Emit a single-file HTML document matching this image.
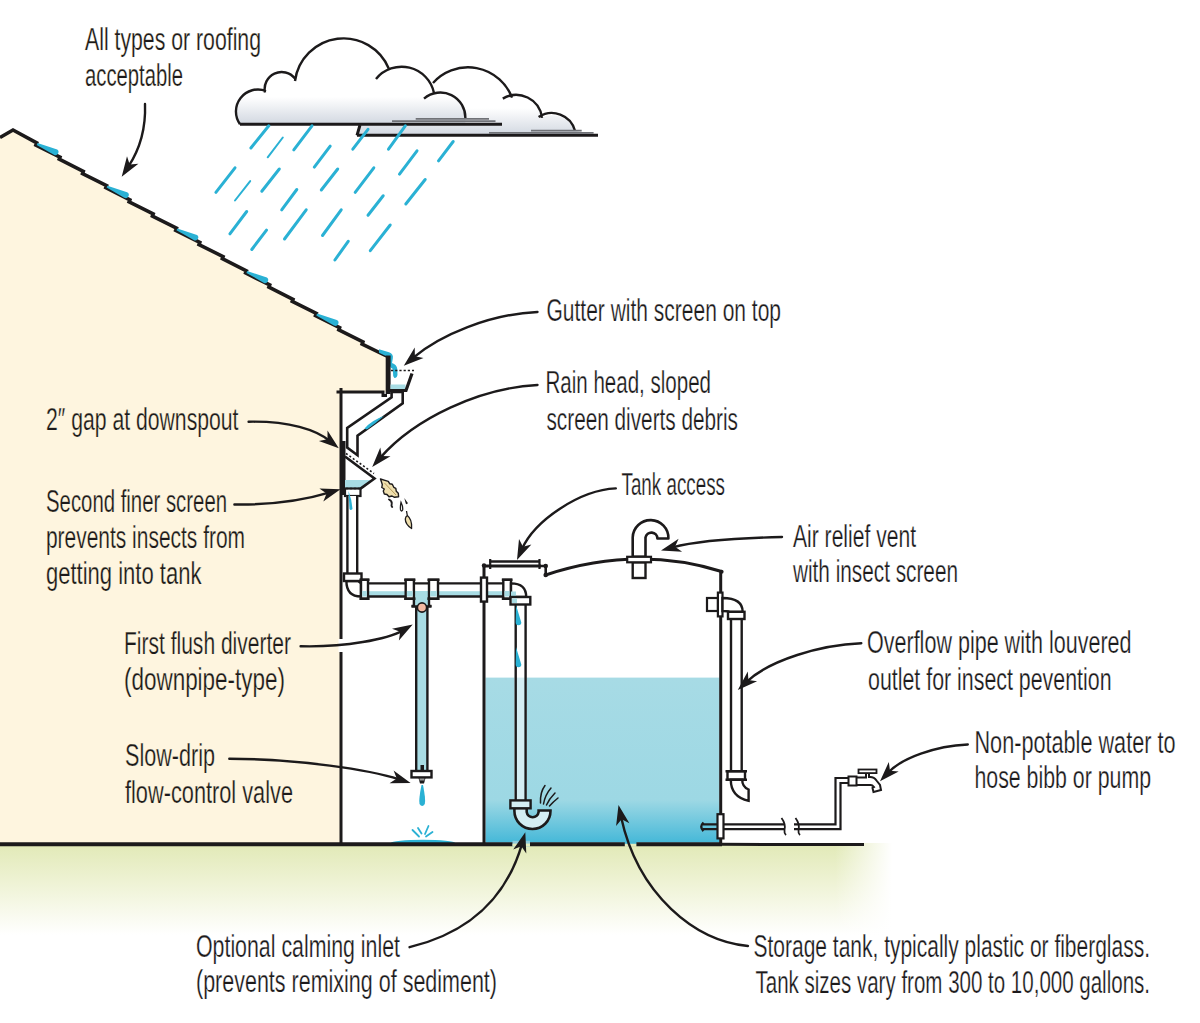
<!DOCTYPE html>
<html><head><meta charset="utf-8"><style>
html,body{margin:0;padding:0;background:#fff;width:1200px;height:1023px;overflow:hidden}
svg{display:block}
text{font-family:"Liberation Sans",sans-serif;font-size:31px;fill:#1c1a1b}
</style></head><body>
<svg width="1200" height="1023" viewBox="0 0 1200 1023">
<defs>
<linearGradient id="gv" x1="0" y1="843" x2="0" y2="935" gradientUnits="userSpaceOnUse">
<stop offset="0" stop-color="#e1e9b6"/><stop offset="0.45" stop-color="#eff3d6"/><stop offset="1" stop-color="#ffffff" stop-opacity="1"/></linearGradient>
<linearGradient id="gh" x1="835" y1="0" x2="892" y2="0" gradientUnits="userSpaceOnUse">
<stop offset="0" stop-color="#fff" stop-opacity="0"/><stop offset="1" stop-color="#fff" stop-opacity="1"/></linearGradient>
<linearGradient id="water" x1="0" y1="678" x2="0" y2="843" gradientUnits="userSpaceOnUse">
<stop offset="0" stop-color="#a7dbe5"/><stop offset="0.74" stop-color="#9dd8e4"/><stop offset="1" stop-color="#45b8d8"/></linearGradient>
<linearGradient id="cl1" x1="0" y1="97" x2="0" y2="124" gradientUnits="userSpaceOnUse">
<stop offset="0" stop-color="#ffffff"/><stop offset="1" stop-color="#d2d8e1"/></linearGradient>
<linearGradient id="cl2" x1="0" y1="108" x2="0" y2="135" gradientUnits="userSpaceOnUse">
<stop offset="0" stop-color="#ffffff"/><stop offset="1" stop-color="#d2d8e1"/></linearGradient>
</defs>
<rect x="0" y="843" width="1200" height="100" fill="url(#gv)"/>
<rect x="780" y="835" width="420" height="110" fill="url(#gh)"/>
<path d="M0,137 L13,130 L386,356 L386,392 L341,392 L341,843.5 L0,843.5 Z" fill="#fef5df"/>
<path d="M0,137.5 L13,130 L36.7,142.9 L35.9,145.0 L60.0,157.1 L59.2,159.2 L83.3,171.4 L82.5,173.5 L106.6,185.6 L105.8,187.7 L129.9,199.8 L129.1,201.9 L153.2,214.0 L152.4,216.1 L176.5,228.2 L175.7,230.3 L199.8,242.4 L199.0,244.5 L223.1,256.6 L222.3,258.7 L246.4,270.8 L245.6,272.9 L269.7,285.0 L268.9,287.1 L293.0,299.3 L292.2,301.4 L316.3,313.5 L315.5,315.6 L339.6,327.7 L338.8,329.8 L362.9,341.9 L362.1,344.0 L386.5,356" fill="none" stroke="#1c1a1b" stroke-width="3.6" stroke-linejoin="miter"/>
<path d="M37.5,143.1 L57.2,149.6 A3.1,3.1 0 0 1 54.3,155.0 L36.7,145.0 Z" fill="#2ab1d4"/>
<path d="M107.4,185.7 L127.1,192.2 A3.1,3.1 0 0 1 124.2,197.7 L106.6,187.6 Z" fill="#2ab1d4"/>
<path d="M177.3,228.4 L197.0,234.9 A3.1,3.1 0 0 1 194.1,240.3 L176.5,230.3 Z" fill="#2ab1d4"/>
<path d="M247.2,271.0 L266.9,277.5 A3.1,3.1 0 0 1 264.0,282.9 L246.4,272.9 Z" fill="#2ab1d4"/>
<path d="M317.1,313.6 L336.8,320.1 A3.1,3.1 0 0 1 333.9,325.6 L316.3,315.5 Z" fill="#2ab1d4"/>
<path d="M379,349.3 L389,352.3 Q393.8,354 392.8,358.5 L392,363 Q396.8,364.5 397.3,369 L397.5,375 Q396.8,378.8 394.2,377.8 Q392.8,376.5 393,372.5 L392.6,368.8 Q389.5,367.5 389.8,364 L390,357 L386,356 L379,352.8 Z" fill="#2ab1d4"/>
<rect x="385.7" y="355.5" width="4.9" height="38.5" fill="#1c1a1b"/>
<path d="M336.5,392 L383,392 L383,395.5 L387,395.5" fill="none" stroke="#1c1a1b" stroke-width="3"/>
<path d="M341,388 L341,843.5" fill="none" stroke="#1c1a1b" stroke-width="3"/>
<rect x="390.5" y="384.5" width="15" height="5" fill="#a8dce4"/>
<path d="M390,390.5 L406,390.5 L412,373.5" fill="none" stroke="#1c1a1b" stroke-width="3.2"/>
<path d="M391,370.5 L414,370.5" fill="none" stroke="#1c1a1b" stroke-width="1.6" stroke-dasharray="2.2,2"/>
<path d="M391.6,392 L391.6,397.4 L347.2,428 L347.2,447.6 L357.5,455.2 L357.5,435.6 L402.7,403.3 L402.7,392 Z" fill="#fff" stroke="#1c1a1b" stroke-width="2.6" stroke-linejoin="miter"/>
<path d="M364.5,428.5 Q372,420 384,416 Q376,423 367,429.5 Z" fill="#2ab1d4"/>
<rect x="341" y="441" width="4.5" height="54" fill="#1c1a1b"/>
<path d="M345,480 L372,480 L360.5,488.5 L345,488.5 Z" fill="#a8dce4"/>
<path d="M345,456.5 L374.5,478.5 L360.5,488.6" fill="none" stroke="#1c1a1b" stroke-width="2.6"/>
<path d="M346,453.5 L374,473.5" fill="none" stroke="#1c1a1b" stroke-width="1.6" stroke-dasharray="2,2.2"/>
<rect x="345" y="488.5" width="15.5" height="7.5" fill="#fff" stroke="#1c1a1b" stroke-width="2.2"/>
<path d="M346,488.5 L360,488.5" fill="none" stroke="#1c1a1b" stroke-width="1.6" stroke-dasharray="2,2"/>
<rect x="346.4" y="496" width="11.8" height="78" fill="#fff"/>
<path d="M347.4,496 L347.4,574 M357.2,496 L357.2,574" stroke="#1c1a1b" stroke-width="2.4"/>
<path d="M348.5,491 Q352,500 352.5,509 Q350.5,511 349.5,509 Z" fill="#2ab1d4"/>
<path d="M346.4,581 Q346.4,596.5 361,596.5 L361,583.4 L358.2,581 Z" fill="#fff" stroke="#1c1a1b" stroke-width="2.4"/>
<rect x="344" y="573.5" width="17.5" height="7.5" fill="#fff" stroke="#1c1a1b" stroke-width="2.4"/>
<rect x="361" y="583.4" width="150" height="13.1" fill="#fff"/>
<rect x="361" y="591.2" width="150" height="5" fill="#a8dce4"/>
<path d="M361,583.4 L503,583.4 M361,596.5 L503,596.5" stroke="#1c1a1b" stroke-width="2.4"/>
<rect x="413.9" y="591" width="15.1" height="16" fill="#a8dce4"/>
<path d="M413.9,597 L413.9,606 L411.5,606 M429,597 L429,606 L431.5,606" fill="none" stroke="#1c1a1b" stroke-width="2.4"/>
<path d="M411.5,606.5 L431.5,606.5" stroke="#1c1a1b" stroke-width="2.4"/>
<rect x="361" y="579.8" width="7" height="19" fill="#fff" stroke="#1c1a1b" stroke-width="2.4"/>
<rect x="362.2" y="591" width="4.6" height="5.5" fill="#a8dce4"/>
<path d="M359.5,579.8 L369.5,579.8 M359.5,598.8 L369.5,598.8" stroke="#1c1a1b" stroke-width="2.4"/>
<rect x="405.7" y="579.8" width="8.199999999999989" height="19" fill="#fff" stroke="#1c1a1b" stroke-width="2.4"/>
<rect x="406.9" y="591" width="5.799999999999988" height="5.5" fill="#a8dce4"/>
<path d="M404.2,579.8 L415.4,579.8 M404.2,598.8 L415.4,598.8" stroke="#1c1a1b" stroke-width="2.4"/>
<rect x="429" y="579.8" width="9" height="19" fill="#fff" stroke="#1c1a1b" stroke-width="2.4"/>
<rect x="430.2" y="591" width="6.6" height="5.5" fill="#a8dce4"/>
<path d="M427.5,579.8 L439.5,579.8 M427.5,598.8 L439.5,598.8" stroke="#1c1a1b" stroke-width="2.4"/>
<rect x="503.3" y="579.8" width="7.699999999999989" height="19" fill="#fff" stroke="#1c1a1b" stroke-width="2.4"/>
<rect x="504.5" y="591" width="5.299999999999988" height="5.5" fill="#a8dce4"/>
<path d="M501.8,579.8 L512.5,579.8 M501.8,598.8 L512.5,598.8" stroke="#1c1a1b" stroke-width="2.4"/>
<rect x="416.2" y="607" width="11.2" height="165" fill="#a8dce4" stroke="#1c1a1b" stroke-width="2.4"/>
<circle cx="422" cy="607.5" r="4.6" fill="#f4b9a2" stroke="#1c1a1b" stroke-width="1.6"/>
<rect x="420.5" y="765" width="3.5" height="7" fill="#1c1a1b"/>
<rect x="411.5" y="771" width="20" height="6.4" fill="#fff" stroke="#1c1a1b" stroke-width="2.4"/>
<path d="M418.5,778 L425.5,778 L424,783.5 L420,783.5 Z" fill="#1c1a1b"/>
<rect x="419.5" y="778.5" width="5" height="2" fill="#9a9a9a"/>
<path d="M421.5,785 L423,785 Q426,800 424.8,804 Q422.2,808 419.5,804 Q418.5,800 421.5,785 Z" fill="#2ab1d4"/>
<ellipse cx="423" cy="842.8" rx="32" ry="3" fill="#2ab1d4"/>
<path d="M412.5,830 L419,836.5 M418,828 L421.5,833.5 M428.5,826 L425,834 M432.5,832 L426,836.5" stroke="#2ab1d4" stroke-width="1.8" stroke-linecap="round"/>
<rect x="485.5" y="677.6" width="234" height="165" fill="url(#water)"/>
<path d="M484,565 L484,843.5" stroke="#1c1a1b" stroke-width="3"/>
<path d="M720.7,571.5 L720.7,843.5" stroke="#1c1a1b" stroke-width="3"/>
<path d="M545.7,575 Q636,545 721.6,571.5" fill="none" stroke="#1c1a1b" stroke-width="3"/>
<circle cx="721.6" cy="571.8" r="2" fill="#1c1a1b"/>
<path d="M484,566 L541,566" stroke="#1c1a1b" stroke-width="3.2"/><path d="M489.3,561.5 L540,561.5" stroke="#1c1a1b" stroke-width="2.4"/>
<path d="M490.2,559 L490.2,569 M539.5,559 L539.5,569" stroke="#1c1a1b" stroke-width="2.2"/>
<circle cx="484" cy="565.5" r="2.2" fill="#1c1a1b"/>
<path d="M540,566 L545.7,566 L545.7,575" fill="none" stroke="#1c1a1b" stroke-width="2.6"/>
<circle cx="545.7" cy="566" r="2.3" fill="#1c1a1b"/><circle cx="545.7" cy="575" r="2.3" fill="#1c1a1b"/>
<path d="M632.7,556.8 L632.7,537.5 A17.8,17.8 0 0 1 668.4,538.5 L657.4,538.5 A6,6 0 0 0 645.5,537.5 L645.5,556.8 Z" fill="#fff" stroke="#1c1a1b" stroke-width="2.6" stroke-linejoin="round"/>
<rect x="632.7" y="562.3" width="12.8" height="15.7" fill="#fff" stroke="#1c1a1b" stroke-width="2.4"/>
<rect x="627.2" y="556.8" width="23.8" height="5.5" fill="#fff" stroke="#1c1a1b" stroke-width="2.2"/>
<rect x="514.5" y="604.5" width="12.3" height="196" fill="#fff"/>
<rect x="514.5" y="677.6" width="12.3" height="123" fill="#d4edf3"/>
<path d="M515.7,604.5 L515.7,800.4 M525.6,604.5 L525.6,800.4" stroke="#1c1a1b" stroke-width="2.4"/>
<path d="M511,583.4 Q526.2,583.4 526.2,597 L511,597 Z" fill="#fff" stroke="#1c1a1b" stroke-width="2.4"/>
<rect x="511" y="591.5" width="5" height="4.5" fill="#a8dce4"/>
<rect x="510.5" y="597" width="19.8" height="7.5" fill="#fff" stroke="#1c1a1b" stroke-width="2.4"/>
<rect x="512" y="598.5" width="5" height="4.5" fill="#a8dce4"/>
<path d="M516,605 L521.3,622.5 A2.8,2.8 0 0 1 515.7,622.5 Z M516,647 L521.3,664.5 A2.8,2.8 0 0 1 515.7,664.5 Z" fill="#2ab1d4"/>
<rect x="481" y="577.6" width="6" height="24" fill="#fff" stroke="#1c1a1b" stroke-width="2.4"/>
<path d="M514.4,808 L514.4,811 A18,18 0 0 0 550.5,811 L550.5,810.5 L538.6,810.5 L538.6,812 A6,6 0 0 1 526.7,812 L526.7,808 Z" fill="#d4edf3" stroke="#1c1a1b" stroke-width="2.6"/>
<rect x="510.4" y="800.4" width="20.2" height="7.9" fill="#d4edf3" stroke="#1c1a1b" stroke-width="2.4"/>
<path d="M540.5,803 Q540,792 545,785.5 M543.5,804 Q545,795 551,788 M546.5,805 Q549,799 555,793 M549.5,806 Q553,802 558,798" fill="none" stroke="#1c1a1b" stroke-width="1.5" stroke-linecap="round"/>
<rect x="707" y="598" width="11" height="13" fill="#fff" stroke="#1c1a1b" stroke-width="2.2"/>
<rect x="717.9" y="592.6" width="4.6" height="23.8" fill="#fff" stroke="#1c1a1b" stroke-width="2.2"/>
<path d="M722.5,598 Q742.7,598 742.7,612 L729.8,612 Q729.8,611 722.5,611 Z" fill="#fff" stroke="#1c1a1b" stroke-width="2.4"/>
<rect x="728" y="611.8" width="16.5" height="7.2" fill="#fff" stroke="#1c1a1b" stroke-width="2.4"/>
<path d="M731,619 L731,771.2 M741.7,619 L741.7,771.2" stroke="#1c1a1b" stroke-width="2.4"/>
<rect x="727.5" y="771.2" width="17.5" height="8.6" fill="#fff" stroke="#1c1a1b" stroke-width="2.4"/>
<path d="M725.5,771.2 L747,771.2 M725.5,779.8 L747,779.8" stroke="#1c1a1b" stroke-width="2.4"/>
<path d="M730.8,779.8 Q730.8,797 748.6,800.8 L748.6,789.5 Q742.2,787 742.2,779.8 Z" fill="#fff" stroke="#1c1a1b" stroke-width="2.4"/>
<path d="M703,824.4 L784,824.4 M703,829.2 L784,829.2" stroke="#1c1a1b" stroke-width="2.2"/>
<path d="M703.5,822.5 Q699,826.8 703.5,831" fill="none" stroke="#1c1a1b" stroke-width="2.4"/>
<rect x="717.5" y="814.2" width="6" height="24.2" fill="#fff" stroke="#1c1a1b" stroke-width="2.2"/>
<path d="M781.5,818 Q786,824 784.5,830 Q784,833 786,835 M795.5,818 Q800,824 798.5,830 Q798,833 800,835" fill="none" stroke="#1c1a1b" stroke-width="1.8"/>
<path d="M794,824.4 L835.5,824.4 L835.5,778 L848.5,778 M794,829.2 L840.5,829.2 L840.5,783 L848.5,783" fill="none" stroke="#1c1a1b" stroke-width="2.2"/>
<rect x="848.5" y="776.5" width="8" height="9" fill="#fff" stroke="#1c1a1b" stroke-width="2"/>
<path d="M856.5,777.5 L866,777.5 L866,773.5 M869,773.5 L869,777 Q874,776.5 876.5,780.5 L880,785 L881,790 L873.5,792 L872.5,788 L874,787 Q872,784.5 870,785 L856.5,785" fill="none" stroke="#1c1a1b" stroke-width="2"/>
<rect x="858.5" y="769.5" width="18" height="3.6" fill="#fff" stroke="#1c1a1b" stroke-width="1.8"/>
<path d="M0,844.3 L722,844.3" stroke="#1c1a1b" stroke-width="4"/>
<path d="M720,844.3 L864,844.6" stroke="#1c1a1b" stroke-width="3"/>
<rect x="512.5" y="840.8" width="17.5" height="6" fill="#8fcadb"/>
<rect x="512.5" y="843.6" width="17.5" height="3" fill="#e4ebbd"/>
<rect x="624.8" y="841" width="11.6" height="3" fill="#45b7d5"/>
<rect x="624.8" y="843.8" width="11.6" height="3" fill="#e4ebbd"/>
<rect x="338.5" y="639" width="5" height="13" fill="#fff"/>
<path d="M380.5,479 L385,480.3 L388.3,481.3 L389.8,483.8 L392.3,484.3 L393.8,487.3 L395.8,488.3 L396.3,491.3 L398.3,493.3 L398.6,496.8 L394.5,497.3 L392,496 L389,496.8 L387,494.5 L384.3,494 L383.3,491 L384.3,489 L381.8,487.5 L382.3,484.5 Z" fill="#efdfae" stroke="#1c1a1b" stroke-width="1.4" stroke-linejoin="round"/>
<path d="M384.5,483 L396,495" stroke="#b59a5a" stroke-width="1"/>
<path d="M389,499.5 Q392.3,501 391.7,504 Q391,506 392.2,507" fill="none" stroke="#1c1a1b" stroke-width="1.9" stroke-linecap="round"/>
<path d="M401,502.3 Q403.2,507 402.6,510 Q401.6,512 400.6,510 Q400,507 401,502.3 Z" fill="#fff" stroke="#1c1a1b" stroke-width="1.3"/>
<path d="M404.3,498 L407.8,503 Q407.4,504.8 405.8,503.8 Z" fill="#1c1a1b"/>
<path d="M406.5,511 L407.3,515.5 Q412.3,519.5 411.6,528.5 Q405.3,524.5 405.3,519 Q405.6,516.5 407.3,515.5" fill="#efdfae" stroke="#1c1a1b" stroke-width="1.3" stroke-linejoin="round"/>
<path d="M357,135.3 L360,124 L433,83 A47,47 0 0 1 512,97.7 A26,26 0 0 1 542,117.8 A24,24 0 0 1 575,130.7 L598,135.3 Z" fill="url(#cl2)"/>
<path d="M433,83 A47,47 0 0 1 512,97.7 M502.8,98.6 A26,26 0 0 1 542,117.8 M538.6,117 A24,24 0 0 1 575,130.7" fill="none" stroke="#1c1a1b" stroke-width="2.4"/>
<path d="M357,135.3 L598,135.3 M357,135.3 L360,125" fill="none" stroke="#1c1a1b" stroke-width="3"/>
<path d="M489,132.9 L593.6,132.9 M531,130.7 L581.7,130.7" stroke="#707277" stroke-width="1.8"/>
<path d="M240,124.2 A22,22 0 0 1 266,91 A17,17 0 0 1 295,78.5 A49,49 0 0 1 389,69 L376,79 A33,33 0 0 1 434,93 L424,98.6 A25,25 0 0 1 465.3,119 L465.3,124.2 Z" fill="url(#cl1)"/>
<path d="M240,124.2 A22,22 0 0 1 266,91 M265,92.5 A17,17 0 0 1 295,78.5 M295,81 A49,49 0 0 1 389,69 M376,79 A33,33 0 0 1 434,93 M424,98.6 A25,25 0 0 1 465.3,119" fill="none" stroke="#1c1a1b" stroke-width="2.4"/>
<path d="M240,124.2 L502,124.2" stroke="#1c1a1b" stroke-width="3"/>
<path d="M392,121.1 L495.5,121.1 M415.7,118.8 L489,118.8" stroke="#707277" stroke-width="1.8"/>
<path d="M268.8,125.8 L250.9,148" stroke="#2ab1d4" stroke-width="3.0" stroke-linecap="round"/>
<path d="M282.8,137.5 L267.7,157.3" stroke="#2ab1d4" stroke-width="2.0" stroke-linecap="round"/>
<path d="M312,125.8 L293.8,149.9" stroke="#2ab1d4" stroke-width="3.0" stroke-linecap="round"/>
<path d="M330.2,146.1 L314.3,167.1" stroke="#2ab1d4" stroke-width="3.0" stroke-linecap="round"/>
<path d="M368,129.3 L352.8,149.2" stroke="#2ab1d4" stroke-width="3.0" stroke-linecap="round"/>
<path d="M405.3,125.8 L388.5,149.2" stroke="#2ab1d4" stroke-width="3.0" stroke-linecap="round"/>
<path d="M453.2,141.5 L438.5,160.8" stroke="#2ab1d4" stroke-width="3.0" stroke-linecap="round"/>
<path d="M235,167.8 L215.9,192.3" stroke="#2ab1d4" stroke-width="3.0" stroke-linecap="round"/>
<path d="M250.2,181.1 L235,200.5" stroke="#2ab1d4" stroke-width="2.0" stroke-linecap="round"/>
<path d="M279.3,169 L261.8,191.2" stroke="#2ab1d4" stroke-width="3.0" stroke-linecap="round"/>
<path d="M337.7,169 L321.3,190" stroke="#2ab1d4" stroke-width="3.0" stroke-linecap="round"/>
<path d="M373.8,167.8 L355.2,192.3" stroke="#2ab1d4" stroke-width="3.0" stroke-linecap="round"/>
<path d="M417,150.8 L399.5,174.1" stroke="#2ab1d4" stroke-width="3.0" stroke-linecap="round"/>
<path d="M425.2,179.5 L405.8,204" stroke="#2ab1d4" stroke-width="3.0" stroke-linecap="round"/>
<path d="M296.8,189.5 L281.7,209.8" stroke="#2ab1d4" stroke-width="3.0" stroke-linecap="round"/>
<path d="M383.2,195.8 L368,215.2" stroke="#2ab1d4" stroke-width="3.0" stroke-linecap="round"/>
<path d="M246.7,211.5 L229.9,233.9" stroke="#2ab1d4" stroke-width="3.0" stroke-linecap="round"/>
<path d="M306.2,209.8 L284.5,239" stroke="#2ab1d4" stroke-width="3.0" stroke-linecap="round"/>
<path d="M341.2,209.8 L322.5,235.5" stroke="#2ab1d4" stroke-width="3.0" stroke-linecap="round"/>
<path d="M266.5,230.1 L251.8,249.5" stroke="#2ab1d4" stroke-width="3.0" stroke-linecap="round"/>
<path d="M390.2,225 L370.3,250.7" stroke="#2ab1d4" stroke-width="3.0" stroke-linecap="round"/>
<path d="M348.2,241.3 L334.9,260" stroke="#2ab1d4" stroke-width="3.0" stroke-linecap="round"/>
<path d="M145,104 C146,130 138,152 128.3,166.7" fill="none" stroke="#1c1a1b" stroke-width="2.4" stroke-linecap="round"/><path d="M121.7,176.7 L127.0,156.3 L129.7,164.6 L138.4,163.8 Z" fill="#1c1a1b"/>
<path d="M537.5,312 C490,314 440,335 413.0,357.9" fill="none" stroke="#1c1a1b" stroke-width="2.4" stroke-linecap="round"/><path d="M403.8,365.7 L414.7,347.6 L414.9,356.3 L423.5,358.0 Z" fill="#1c1a1b"/>
<path d="M537.5,385 C480,388 415,418 380.1,457.9" fill="none" stroke="#1c1a1b" stroke-width="2.4" stroke-linecap="round"/><path d="M372.2,466.9 L380.3,447.4 L381.7,456.0 L390.5,456.3 Z" fill="#1c1a1b"/>
<path d="M248.6,421.7 C290,421 316,430 329.4,440.8" fill="none" stroke="#1c1a1b" stroke-width="2.4" stroke-linecap="round"/><path d="M338.8,448.3 L318.9,441.1 L327.5,439.2 L327.5,430.5 Z" fill="#1c1a1b"/>
<path d="M234.4,504.5 C270,505 305,500 329.0,492.7" fill="none" stroke="#1c1a1b" stroke-width="2.4" stroke-linecap="round"/><path d="M340.5,489.2 L323.3,501.5 L326.6,493.4 L319.4,488.5 Z" fill="#1c1a1b"/>
<path d="M300.6,646.3 C345,647.5 388,639 402.4,630.6" fill="none" stroke="#1c1a1b" stroke-width="2.4" stroke-linecap="round"/><path d="M412.7,624.5 L398.9,640.5 L400.2,631.8 L392.0,628.8 Z" fill="#1c1a1b"/>
<path d="M229.3,758.7 C300,759 370,770 399.2,779.3" fill="none" stroke="#1c1a1b" stroke-width="2.4" stroke-linecap="round"/><path d="M410.6,782.9 L389.5,783.3 L396.8,778.5 L393.6,770.4 Z" fill="#1c1a1b"/>
<path d="M615.8,488.4 C580,490 535,520 521.9,549.1" fill="none" stroke="#1c1a1b" stroke-width="2.4" stroke-linecap="round"/><path d="M517.0,560.0 L519.0,539.0 L523.0,546.8 L531.4,544.6 Z" fill="#1c1a1b"/>
<path d="M782,537 C740,538 700,540 672.6,547.3" fill="none" stroke="#1c1a1b" stroke-width="2.4" stroke-linecap="round"/><path d="M661.0,550.4 L678.6,538.7 L675.0,546.7 L682.1,551.8 Z" fill="#1c1a1b"/>
<path d="M861.3,643.3 C820,645 770,660 746.6,681.8" fill="none" stroke="#1c1a1b" stroke-width="2.4" stroke-linecap="round"/><path d="M737.8,690.0 L747.8,671.4 L748.4,680.1 L757.1,681.3 Z" fill="#1c1a1b"/>
<path d="M967.8,744.5 C935,746 902,758 888.3,772.5" fill="none" stroke="#1c1a1b" stroke-width="2.4" stroke-linecap="round"/><path d="M880.0,781.2 L888.8,762.0 L890.0,770.7 L898.7,771.4 Z" fill="#1c1a1b"/>
<path d="M409.6,947.2 C467.8,933 505.9,899.6 522.0,843.8" fill="none" stroke="#1c1a1b" stroke-width="2.4" stroke-linecap="round"/><path d="M525.3,832.3 L526.3,853.4 L521.3,846.2 L513.2,849.6 Z" fill="#1c1a1b"/>
<path d="M748,946 C695,941 638,895 621.0,816.8" fill="none" stroke="#1c1a1b" stroke-width="2.4" stroke-linecap="round"/><path d="M618.5,805.1 L629.4,823.2 L621.6,819.3 L616.1,826.1 Z" fill="#1c1a1b"/>
<text x="84.99" y="50.2" textLength="176.03" lengthAdjust="spacingAndGlyphs" stroke="#fef5df" stroke-width="0.25">All types or roofing</text>
<text x="84.99" y="86" textLength="98.03" lengthAdjust="spacingAndGlyphs" stroke="#fef5df" stroke-width="0.25">acceptable</text>
<text x="546.48" y="321" textLength="234.53" lengthAdjust="spacingAndGlyphs" stroke="#ffffff" stroke-width="0.25">Gutter with screen on top</text>
<text x="545.47" y="393.3" textLength="165.55" lengthAdjust="spacingAndGlyphs" stroke="#ffffff" stroke-width="0.25">Rain head, sloped</text>
<text x="546.49" y="430" textLength="191.52" lengthAdjust="spacingAndGlyphs" stroke="#ffffff" stroke-width="0.25">screen diverts debris</text>
<text x="45.99" y="430.2" textLength="192.51" lengthAdjust="spacingAndGlyphs" stroke="#fef5df" stroke-width="0.25">2″ gap at downspout</text>
<text x="45.99" y="512" textLength="181.04" lengthAdjust="spacingAndGlyphs" stroke="#fef5df" stroke-width="0.25">Second finer screen</text>
<text x="45.97" y="548" textLength="199.05" lengthAdjust="spacingAndGlyphs" stroke="#fef5df" stroke-width="0.25">prevents insects from</text>
<text x="45.99" y="583.7" textLength="155.51" lengthAdjust="spacingAndGlyphs" stroke="#fef5df" stroke-width="0.25">getting into tank</text>
<text x="621.50" y="495.3" textLength="103.51" lengthAdjust="spacingAndGlyphs" stroke="#ffffff" stroke-width="0.25">Tank access</text>
<text x="793.00" y="547" textLength="123.00" lengthAdjust="spacingAndGlyphs" stroke="#ffffff" stroke-width="0.25">Air relief vent</text>
<text x="793.00" y="582.4" textLength="165.01" lengthAdjust="spacingAndGlyphs" stroke="#ffffff" stroke-width="0.25">with insect screen</text>
<text x="123.98" y="654.1" textLength="167.03" lengthAdjust="spacingAndGlyphs" stroke="#fef5df" stroke-width="0.25">First flush diverter</text>
<text x="123.97" y="690.3" textLength="161.04" lengthAdjust="spacingAndGlyphs" stroke="#fef5df" stroke-width="0.25">(downpipe-type)</text>
<text x="124.97" y="765.5" textLength="90.03" lengthAdjust="spacingAndGlyphs" stroke="#fef5df" stroke-width="0.25">Slow-drip</text>
<text x="125.00" y="802.7" textLength="168.01" lengthAdjust="spacingAndGlyphs" stroke="#fef5df" stroke-width="0.25">flow-control valve</text>
<text x="866.98" y="653.3" textLength="264.53" lengthAdjust="spacingAndGlyphs" stroke="#ffffff" stroke-width="0.25">Overflow pipe with louvered</text>
<text x="868.00" y="689.5" textLength="243.52" lengthAdjust="spacingAndGlyphs" stroke="#ffffff" stroke-width="0.25">outlet for insect pevention</text>
<text x="974.47" y="753" textLength="201.03" lengthAdjust="spacingAndGlyphs" stroke="#ffffff" stroke-width="0.25">Non-potable water to</text>
<text x="974.48" y="787.9" textLength="176.53" lengthAdjust="spacingAndGlyphs" stroke="#ffffff" stroke-width="0.25">hose bibb or pump</text>
<text x="195.99" y="956.8" textLength="204.01" lengthAdjust="spacingAndGlyphs" stroke="#ffffff" stroke-width="0.25">Optional calming inlet</text>
<text x="195.99" y="992.2" textLength="301.02" lengthAdjust="spacingAndGlyphs" stroke="#ffffff" stroke-width="0.25">(prevents remixing of sediment)</text>
<text x="753.49" y="957" textLength="396.53" lengthAdjust="spacingAndGlyphs" stroke="#ffffff" stroke-width="0.25">Storage tank, typically plastic or fiberglass.</text>
<text x="755.50" y="992.5" textLength="394.51" lengthAdjust="spacingAndGlyphs" stroke="#ffffff" stroke-width="0.25">Tank sizes vary from 300 to 10,000 gallons.</text>
</svg></body></html>
